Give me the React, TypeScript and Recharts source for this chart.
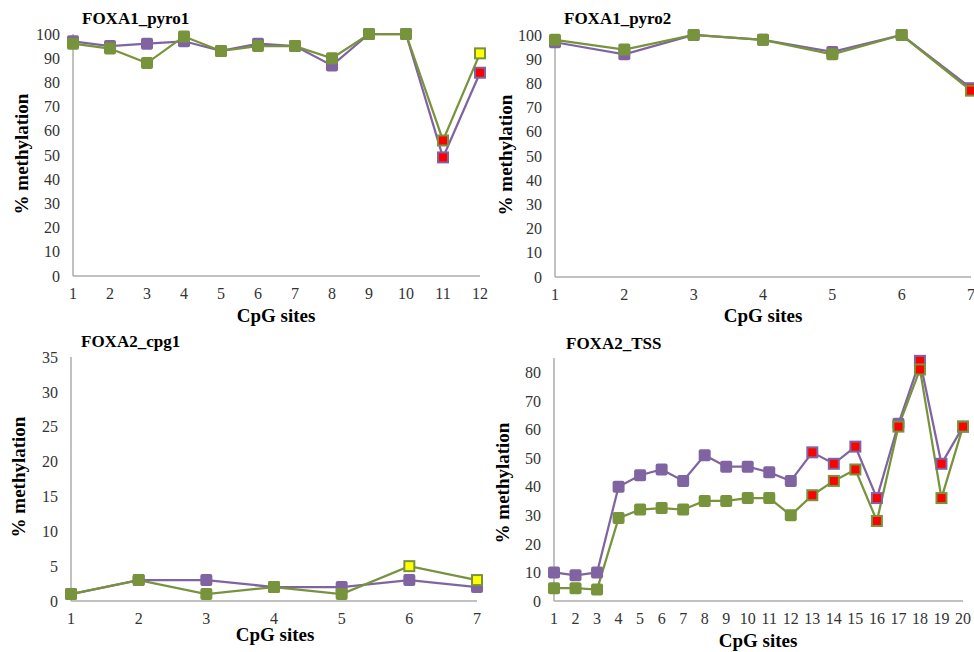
import React from "react";
import { LineChart, Line, XAxis, YAxis } from "recharts";

// FOXA1_pyro1
const P1_SITES = [1, 2, 3, 4, 5, 6, 7, 8, 9, 10, 11, 12];
const P1_PURPLE = [97, 95, 96, 97, 93, 96, 95, 87, 100, 100, 49, 84];
const P1_GREEN = [96, 94, 88, 99, 93, 95, 95, 90, 100, 100, 56, 92];
// 0 = plain marker, 1 = red marker, 2 = yellow marker
const P1_PURPLE_FLAG = [0, 0, 0, 0, 0, 0, 0, 0, 0, 0, 1, 1];
const P1_GREEN_FLAG = [0, 0, 0, 0, 0, 0, 0, 0, 0, 0, 1, 2];

// FOXA1_pyro2
const P2_SITES = [1, 2, 3, 4, 5, 6, 7];
const P2_PURPLE = [97, 92, 100, 98, 93, 100, 78];
const P2_GREEN = [98, 94, 100, 98, 92, 100, 77];
const P2_PURPLE_FLAG = [0, 0, 0, 0, 0, 0, 1];
const P2_GREEN_FLAG = [0, 0, 0, 0, 0, 0, 1];

// FOXA2_cpg1
const P3_SITES = [1, 2, 3, 4, 5, 6, 7];
const P3_PURPLE = [1, 3, 3, 2, 2, 3, 2];
const P3_GREEN = [1, 3, 1, 2, 1, 5, 3];
const P3_PURPLE_FLAG = [0, 0, 0, 0, 0, 0, 0];
const P3_GREEN_FLAG = [0, 0, 0, 0, 0, 2, 2];

// FOXA2_TSS
const P4_SITES = [1, 2, 3, 4, 5, 6, 7, 8, 9, 10, 11, 12, 13, 14, 15, 16, 17, 18, 19, 20];
const P4_PURPLE = [10, 9, 10, 40, 44, 46, 42, 51, 47, 47, 45, 42, 52, 48, 54, 36, 62, 84, 48, 61];
const P4_GREEN = [4.5, 4.5, 4, 29, 32, 32.5, 32, 35, 35, 36, 36, 30, 37, 42, 46, 28, 61, 81, 36, 61];
const P4_PURPLE_FLAG = [0, 0, 0, 0, 0, 0, 0, 0, 0, 0, 0, 0, 1, 1, 1, 1, 0, 1, 1, 1];
const P4_GREEN_FLAG = [0, 0, 0, 0, 0, 0, 0, 0, 0, 0, 0, 0, 1, 1, 1, 1, 1, 1, 1, 1];

const TICKS_100 = [0, 10, 20, 30, 40, 50, 60, 70, 80, 90, 100];
const TICKS_35 = [0, 5, 10, 15, 20, 25, 30, 35];
const TICKS_80 = [0, 10, 20, 30, 40, 50, 60, 70, 80];

const PURPLE = "#8064A2";
const GREEN = "#77933C";
const RED = "#FF0000";
const YELLOW = "#FFFF00";
const AXIS = "#ADADAD";
const FONT = "Liberation Serif, Times New Roman, Times, DejaVu Serif, serif";

const tickStyle = { fontSize: 16, fill: "#333", fontFamily: FONT };

function makeDot(color: string, flags: number[]) {
  return (props: any) => {
    const { cx, cy, index } = props;
    const key = `dot-${color}-${index}`;
    if (cx == null || cy == null) return <g key={key} />;
    const flag = flags[index] ?? 0;
    if (flag === 0) {
      return <rect key={key} x={cx - 6} y={cy - 6} width={12} height={12} rx={2} fill={color} />;
    }
    return (
      <rect
        key={key}
        x={cx - 5}
        y={cy - 5}
        width={10}
        height={10}
        fill={flag === 1 ? RED : YELLOW}
        stroke={color}
        strokeWidth={2}
      />
    );
  };
}

interface PanelProps {
  left: number;
  top: number;
  width: number;
  height: number;
  marginTop: number;
  marginRight: number;
  yAxisWidth: number;
  xAxisHeight: number;
  sites: number[];
  yMax: number;
  yTicks: number[];
  purple: number[];
  green: number[];
  purpleFlag: number[];
  greenFlag: number[];
}

function Panel(p: PanelProps) {
  const data = p.sites.map((s, i) => ({ site: s, purple: p.purple[i], green: p.green[i] }));
  return (
    <div style={{ position: "absolute", left: p.left, top: p.top, width: p.width, height: p.height }}>
      <LineChart
        width={p.width}
        height={p.height}
        data={data}
        margin={{ top: p.marginTop, right: p.marginRight, bottom: 0, left: 0 }}
        style={{ fontFamily: FONT }}
      >
        <XAxis
          dataKey="site"
          type="number"
          domain={[p.sites[0], p.sites[p.sites.length - 1]]}
          ticks={p.sites}
          interval={0}
          height={p.xAxisHeight}
          axisLine={{ stroke: AXIS, strokeWidth: 1.5 }}
          tickLine={false}
          tickMargin={6}
          tick={tickStyle}
        />
        <YAxis
          type="number"
          domain={[0, p.yMax]}
          ticks={p.yTicks}
          interval={0}
          width={p.yAxisWidth}
          axisLine={{ stroke: AXIS, strokeWidth: 1.5 }}
          tickLine={false}
          tickMargin={7}
          tick={tickStyle}
        />
        <Line
          type="linear"
          dataKey="purple"
          stroke={PURPLE}
          strokeWidth={2.25}
          dot={makeDot(PURPLE, p.purpleFlag)}
          activeDot={false}
          isAnimationActive={false}
        />
        <Line
          type="linear"
          dataKey="green"
          stroke={GREEN}
          strokeWidth={2.25}
          dot={makeDot(GREEN, p.greenFlag)}
          activeDot={false}
          isAnimationActive={false}
        />
      </LineChart>
    </div>
  );
}

const titleStyle = { fontWeight: "bold" as const, fontSize: 17, fill: "#000" };
const axisTitleStyle = { fontWeight: "bold" as const, fontSize: 19, fill: "#000" };

export default function App() {
  return (
    <div
      style={{
        position: "absolute",
        left: 0,
        top: 0,
        width: 974,
        height: 652,
        background: "#fff",
        overflow: "hidden",
        fontFamily: FONT,
      }}
    >
      <Panel
        left={0} top={0} width={490} height={330}
        marginTop={34} marginRight={10} yAxisWidth={73} xAxisHeight={54}
        sites={P1_SITES} yMax={100} yTicks={TICKS_100}
        purple={P1_PURPLE} green={P1_GREEN} purpleFlag={P1_PURPLE_FLAG} greenFlag={P1_GREEN_FLAG}
      />
      <Panel
        left={490} top={0} width={484} height={330}
        marginTop={35} marginRight={3} yAxisWidth={65} xAxisHeight={53}
        sites={P2_SITES} yMax={100} yTicks={TICKS_100}
        purple={P2_PURPLE} green={P2_GREEN} purpleFlag={P2_PURPLE_FLAG} greenFlag={P2_GREEN_FLAG}
      />
      <Panel
        left={0} top={330} width={490} height={322}
        marginTop={27} marginRight={13} yAxisWidth={71} xAxisHeight={51}
        sites={P3_SITES} yMax={35} yTicks={TICKS_35}
        purple={P3_PURPLE} green={P3_GREEN} purpleFlag={P3_PURPLE_FLAG} greenFlag={P3_GREEN_FLAG}
      />
      <Panel
        left={490} top={330} width={484} height={322}
        marginTop={28} marginRight={11} yAxisWidth={64} xAxisHeight={51}
        sites={P4_SITES} yMax={85} yTicks={TICKS_80}
        purple={P4_PURPLE} green={P4_GREEN} purpleFlag={P4_PURPLE_FLAG} greenFlag={P4_GREEN_FLAG}
      />
      <svg
        width={974}
        height={652}
        fontFamily={FONT}
        style={{ position: "absolute", left: 0, top: 0, pointerEvents: "none" }}
      >
        <text x={82} y={24} style={titleStyle}>FOXA1_pyro1</text>
        <text x={564} y={24} style={titleStyle}>FOXA1_pyro2</text>
        <text x={81} y={347} style={titleStyle}>FOXA2_cpg1</text>
        <text x={566} y={349} style={titleStyle}>FOXA2_TSS</text>

        <text transform="translate(28,154) rotate(-90)" textAnchor="middle" style={axisTitleStyle}>% methylation</text>
        <text transform="translate(512,155) rotate(-90)" textAnchor="middle" style={axisTitleStyle}>% methylation</text>
        <text transform="translate(25,477) rotate(-90)" textAnchor="middle" style={axisTitleStyle}>% methylation</text>
        <text transform="translate(509,483) rotate(-90)" textAnchor="middle" style={axisTitleStyle}>% methylation</text>

        <text x={276} y={322} textAnchor="middle" style={axisTitleStyle}>CpG sites</text>
        <text x={763} y={322} textAnchor="middle" style={axisTitleStyle}>CpG sites</text>
        <text x={275} y={641} textAnchor="middle" style={axisTitleStyle}>CpG sites</text>
        <text x={758} y={647} textAnchor="middle" style={axisTitleStyle}>CpG sites</text>
      </svg>
    </div>
  );
}
